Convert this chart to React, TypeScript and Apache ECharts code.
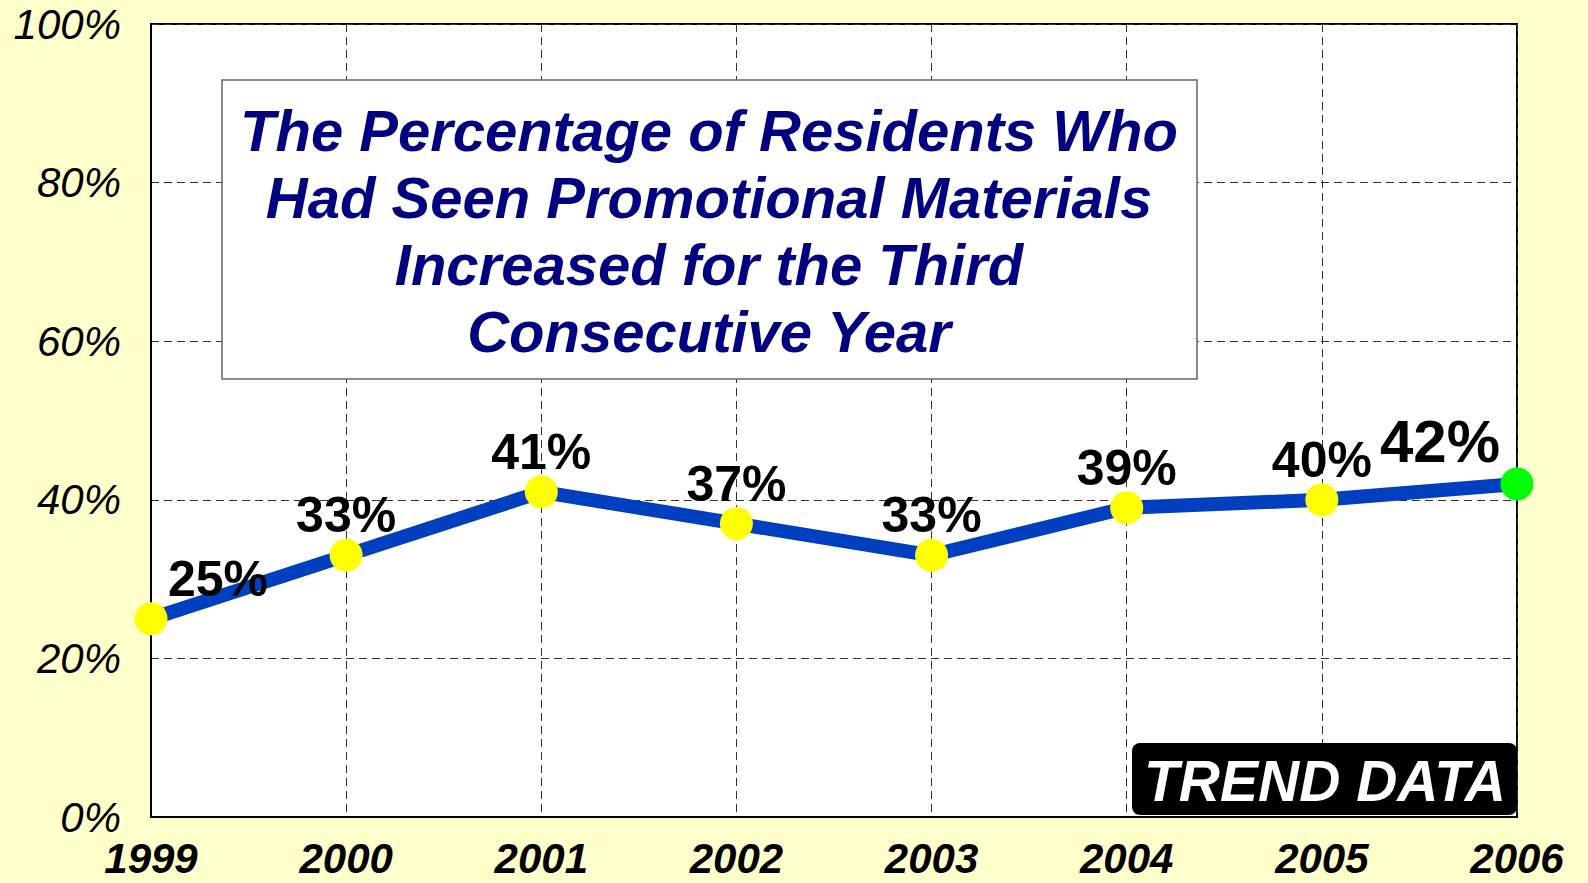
import React, { useEffect, useRef } from "react";
import * as echarts from "echarts";

const years = ["1999", "2000", "2001", "2002", "2003", "2004", "2005", "2006"];
const percentSeen = [25, 33, 41, 37, 33, 39, 40, 42];
const titleLines = [
  "The Percentage of Residents Who",
  "Had Seen Promotional Materials",
  "Increased for the Third",
  "Consecutive Year",
];
const badgeText = "TREND DATA";

const FONT = '"Liberation Sans", Arial, sans-serif';

export default function App() {
  const ref = useRef<HTMLDivElement>(null);

  useEffect(() => {
    document.body.style.margin = "0";
    if (!ref.current) return;
    const chart = echarts.init(ref.current, undefined, { renderer: "svg" });
    const last = percentSeen.length - 1;

    const seriesData = percentSeen.map((v, i) => {
      const isLast = i === last;
      const offset = i === 0 ? [67, -40] : isLast ? [-77, -42] : [0, -40];
      return {
        value: v,
        itemStyle: { color: isLast ? "#00FF00" : "#FFFF00" },
        label: {
          offset,
          fontSize: isLast ? 60 : 50,
        },
      };
    });

    chart.setOption({
      animation: false,
      backgroundColor: "#FFFFCC",
      grid: {
        left: 151,
        top: 24,
        width: 1366,
        height: 793,
        show: true,
        backgroundColor: "#FFFFFF",
        borderColor: "#000000",
        borderWidth: 2,
        containLabel: false,
      },
      xAxis: {
        type: "category",
        data: years,
        boundaryGap: false,
        axisLine: { show: true, lineStyle: { color: "#000", width: 2 } },
        axisTick: { show: false },
        axisLabel: {
          color: "#000",
          fontFamily: FONT,
          fontWeight: "bold",
          fontStyle: "italic",
          fontSize: 42,
          lineHeight: 38,
          margin: 22,
          interval: 0,
        },
        splitLine: {
          show: true,
          lineStyle: { color: "#333333", width: 1, type: [8, 5] },
        },
      },
      yAxis: {
        type: "value",
        min: 0,
        max: 100,
        interval: 20,
        axisLine: { show: true, lineStyle: { color: "#000", width: 2 } },
        axisTick: { show: false },
        axisLabel: {
          color: "#000",
          fontFamily: FONT,
          fontStyle: "italic",
          fontSize: 42,
          margin: 30,
          formatter: "{value}%",
        },
        splitLine: {
          show: true,
          lineStyle: { color: "#333333", width: 1, type: [8, 5] },
        },
      },
      series: [
        {
          type: "line",
          data: seriesData,
          symbol: "circle",
          symbolSize: 33,
          lineStyle: { color: "#0040C0", width: 14 },
          label: {
            show: true,
            position: "inside",
            formatter: "{c}%",
            color: "#000",
            fontFamily: FONT,
            fontWeight: "bold",
          },
          z: 3,
        },
      ],
      graphic: [
        {
          type: "rect",
          shape: { x: 222, y: 80, width: 975, height: 299 },
          style: { fill: "#FFFFFF", stroke: "#666666", lineWidth: 1.5 },
          z: 10,
        },
        {
          type: "text",
          x: 709,
          y: 231,
          style: {
            text: titleLines.join("\n"),
            fill: "#000080",
            font: `italic bold 58px ${FONT}`,
            lineHeight: 67,
            align: "center",
            verticalAlign: "middle",
          },
          z: 11,
        },
        {
          type: "rect",
          shape: { x: 1132, y: 743, width: 385, height: 72, r: 8 },
          style: { fill: "#000000" },
          z: 10,
        },
        {
          type: "text",
          x: 1325,
          y: 781,
          style: {
            text: badgeText,
            fill: "#FFFFFF",
            font: `italic bold 57px ${FONT}`,
            align: "center",
            verticalAlign: "middle",
          },
          z: 11,
        },
      ],
    });

    return () => chart.dispose();
  }, []);

  return <div ref={ref} style={{ width: 1588, height: 883 }} />;
}
